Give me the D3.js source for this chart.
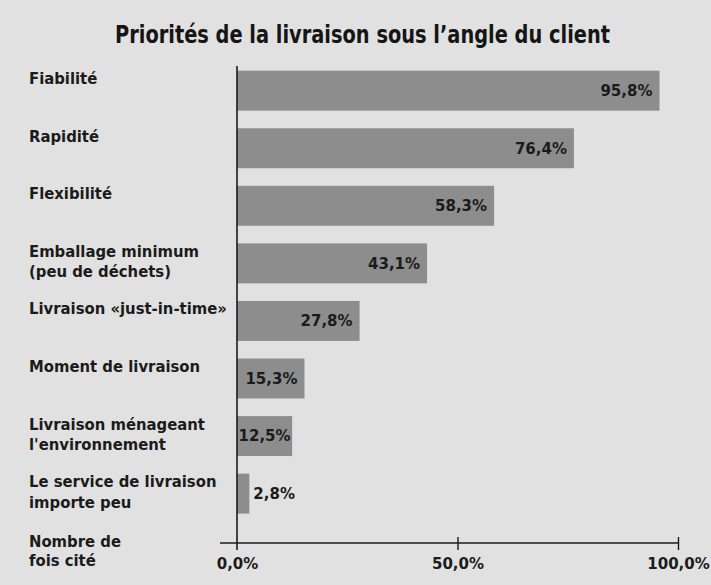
<!DOCTYPE html>
<html lang="fr">
<head>
<meta charset="utf-8">
<script src="https://cdn.jsdelivr.net/npm/d3@7"></script>
<style>
  html, body { margin: 0; padding: 0; background: #e1e1e1; }
  svg { display: block; }
  .cat { font-family: "DejaVu Sans Condensed", "DejaVu Sans", sans-serif; font-stretch: condensed; font-weight: bold; font-size: 16.5px; fill: #1b1b1b; }
  .val, .tick text { font-family: "DejaVu Sans", sans-serif; font-weight: bold; font-size: 15px; fill: #1b1b1b; }
  .title { font-family: "DejaVu Sans Condensed", sans-serif; font-stretch: condensed; font-weight: bold; font-size: 24px; fill: #151515; }
</style>
</head>
<body>
<script>
// Survey: how often each delivery priority was cited by customers (%)
const categories = [
  ["Fiabilité"],
  ["Rapidité"],
  ["Flexibilité"],
  ["Emballage minimum", "(peu de déchets)"],
  ["Livraison «just-in-time»"],
  ["Moment de livraison"],
  ["Livraison ménageant", "l'environnement"],
  ["Le service de livraison", "importe peu"]
];
const values = [95.8, 76.4, 58.3, 43.1, 27.8, 15.3, 12.5, 2.8];
const tickValues = [0, 50, 100];
const title = "Priorités de la livraison sous l’angle du client";
const axisTitle = ["Nombre de", "fois cité"];

const W = 711, H = 585;
const fr = d3.formatLocale({ decimal: ",", thousands: " ", grouping: [3], currency: ["", " €"] });
const fmt = d => fr.format(".1f")(d) + "%";

const svg = d3.select("body").append("svg").attr("width", W).attr("height", H);
svg.append("rect").attr("width", W).attr("height", H).attr("fill", "#e1e1e1");

const x = d3.scaleLinear().domain([0, 100]).range([237, 678]);
const y = d3.scaleBand().domain(d3.range(values.length)).range([70.7, 513.6]).paddingInner(0.306).paddingOuter(0);

// title, condensed to the width of the plot block
svg.append("text").attr("class", "title").attr("x", 115).attr("y", 43)
  .attr("textLength", 495).attr("lengthAdjust", "spacingAndGlyphs").text(title);

// bars
svg.append("g").selectAll("rect").data(values).join("rect")
  .attr("x", x(0)).attr("y", (d, i) => y(i))
  .attr("width", d => x(d) - x(0)).attr("height", y.bandwidth())
  .attr("fill", "#8d8d8d");

// value labels: inside the bar end when they fit, otherwise just after it
const vg = svg.append("g");
values.forEach((v, i) => {
  const t = vg.append("text").attr("class", "val").attr("y", y(i) + y.bandwidth() / 2).attr("dy", "0.36em").text(fmt(v));
  const w = t.node().getComputedTextLength();
  const barW = x(v) - x(0);
  if (barW >= w + 2) {
    const pad = Math.min(7, (barW - w) / 2);
    t.attr("x", x(v) - pad).attr("text-anchor", "end");
  } else {
    t.attr("x", x(v) + 4).attr("text-anchor", "start");
  }
});

// category labels
const cg = svg.append("g");
categories.forEach((lines, i) => {
  const t = cg.append("text").attr("class", "cat").attr("x", 29).attr("y", y(i) + 13.5);
  lines.forEach((s, j) => t.append("tspan").attr("x", 29).attr("dy", j ? 20.5 : 0).text(s));
});

// axes
const axisY = 543;
svg.append("line").attr("x1", x(0)).attr("x2", x(0)).attr("y1", 66).attr("y2", 550)
  .attr("stroke", "#1b1b1b").attr("stroke-width", 1.6);
svg.append("line").attr("x1", x(0) - 17).attr("x2", x(100)).attr("y1", axisY).attr("y2", axisY)
  .attr("stroke", "#1b1b1b").attr("stroke-width", 1.4);

const ax = svg.append("g").attr("transform", `translate(0,${axisY})`)
  .call(d3.axisBottom(x).tickValues(tickValues).tickFormat(fmt).tickSize(7).tickPadding(8));
ax.select(".domain").remove();
ax.selectAll(".tick line").attr("y1", -6).attr("y2", 7).attr("stroke", "#1b1b1b").attr("stroke-width", 1.4)
  .filter(d => d === 0).remove();
ax.selectAll(".tick text").attr("fill", "#1b1b1b").attr("font-family", null).attr("font-size", null);

const at = svg.append("text").attr("class", "cat").attr("x", 29).attr("y", 547);
axisTitle.forEach((s, j) => at.append("tspan").attr("x", 29).attr("dy", j ? 19 : 0).text(s));
</script>
</body>
</html>
